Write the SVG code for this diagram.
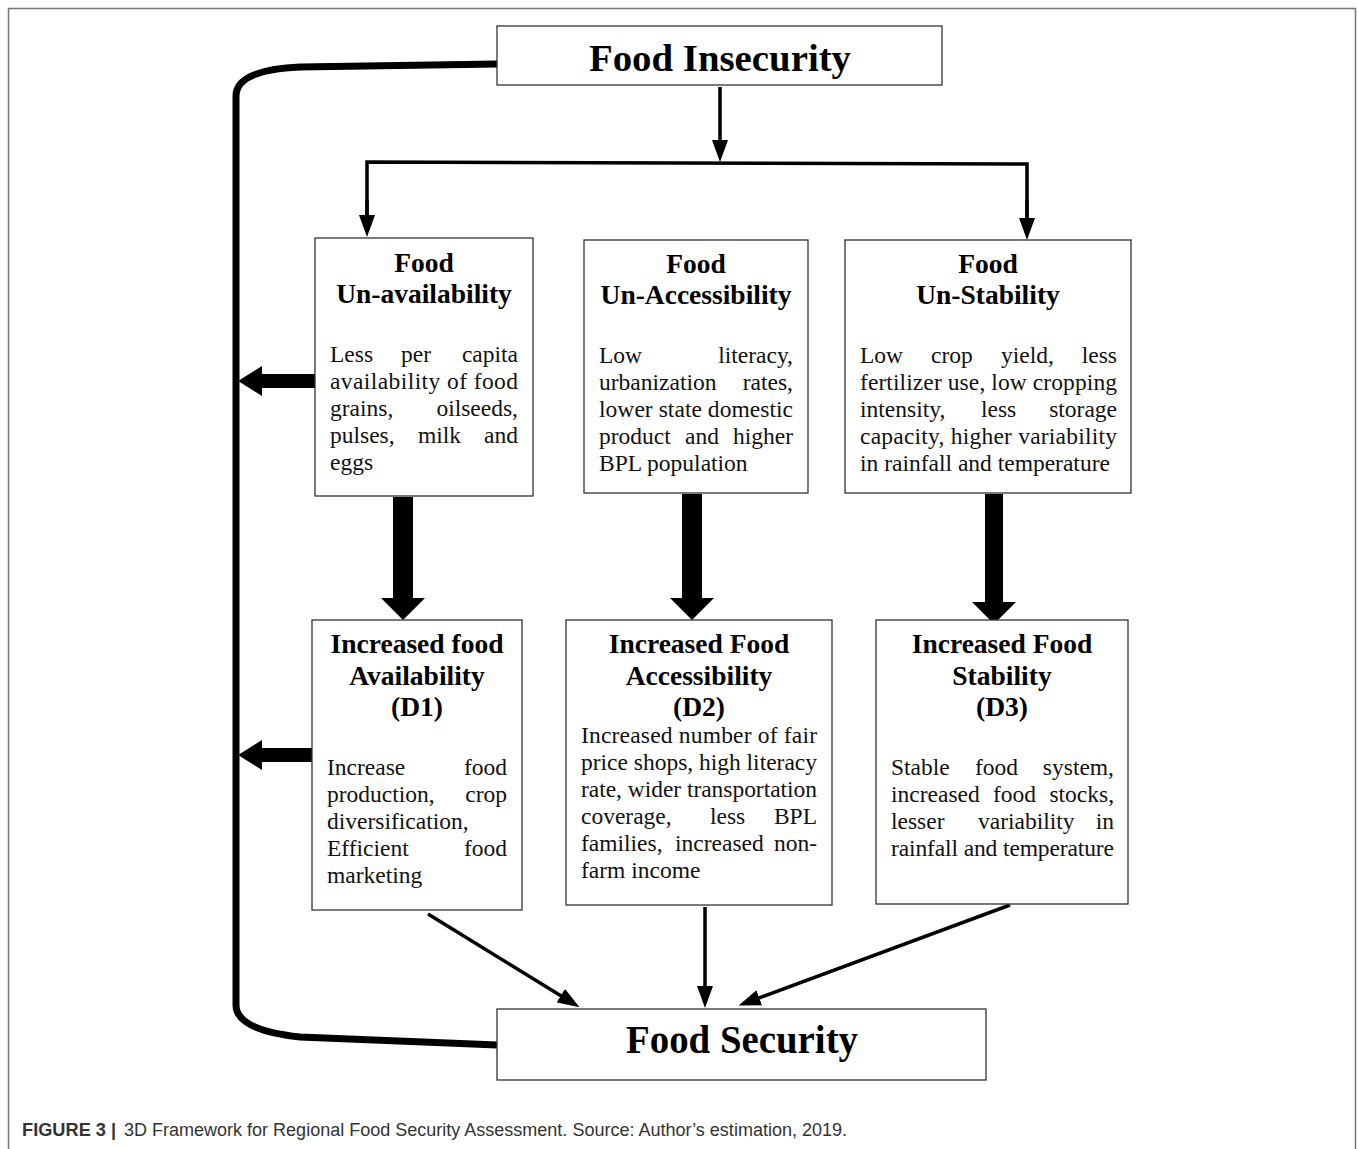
<svg xmlns="http://www.w3.org/2000/svg" width="1358" height="1149" viewBox="0 0 1358 1149">
<style>
.box{fill:#fff;stroke:#333;stroke-width:1.3}
.h{font-family:"Liberation Serif","Times New Roman",serif;font-weight:bold;font-size:27.5px;fill:#000;text-anchor:middle}
.t{font-family:"Liberation Serif","Times New Roman",serif;font-size:23.5px;fill:#111}
.big{font-family:"Liberation Serif","Times New Roman",serif;font-weight:bold;fill:#000;text-anchor:middle}
.ln{fill:none;stroke:#000;stroke-width:3.5}
.cap{font-family:"Liberation Sans",Arial,sans-serif;font-size:18px;fill:#333}
</style>
<defs>
<marker id="ah" viewBox="0 0 22 16" refX="12" refY="8" markerWidth="22" markerHeight="16" markerUnits="userSpaceOnUse" orient="auto">
<path d="M0,0 L22,8 L0,16 Z" fill="#000"/>
</marker>
</defs>
<rect width="1358" height="1149" fill="#fff"/>
<path d="M8.5,1149 V8.5 H1355.5 V1149" fill="none" stroke="#777" stroke-width="1.5"/>

<g id="connectors">
<path d="M497,64 L300,67 Q236,70 236,96 L236,1005 Q236,1030 300,1037 L497,1045" fill="none" stroke="#000" stroke-width="7"/>
<line class="ln" x1="720" y1="87" x2="720" y2="152" marker-end="url(#ah)"/>
<path class="ln" d="M367,228 V162 L1027,164 V230"/>
<line class="ln" x1="367" y1="200" x2="367" y2="227" marker-end="url(#ah)"/>
<line class="ln" x1="1027" y1="200" x2="1027" y2="230" marker-end="url(#ah)"/>
<path d="M315,374 H262 V366 L238,381 L262,396 V388 H315 Z" fill="#000"/>
<path d="M312,748 H262 V740 L238,755 L262,770 V762 H312 Z" fill="#000"/>
<path d="M393,497 H413 V598 H425 L403,620 L381,598 H393 Z" fill="#000"/>
<path d="M682,494 H702 V598 H714 L692,620 L670,598 H682 Z" fill="#000"/>
<path d="M985,494 H1003 V602 H1016 L994,624 L972,602 H985 Z" fill="#000"/>
<line class="ln" x1="428" y1="914" x2="571" y2="1002" marker-end="url(#ah)"/>
<line class="ln" x1="705" y1="907" x2="705" y2="998" marker-end="url(#ah)"/>
<line class="ln" x1="1010" y1="905" x2="748" y2="1002" marker-end="url(#ah)"/>
</g>

<g id="food-insecurity">
<rect class="box" x="497" y="26" width="445" height="59"/>
<text class="big" x="720" y="71" font-size="38" textLength="262" lengthAdjust="spacingAndGlyphs">Food Insecurity</text>
</g>

<g id="food-unavailability">
<rect class="box" x="315" y="238" width="218" height="258"/>
<text class="h" x="424" y="272">Food</text>
<text class="h" x="424" y="303">Un-availability</text>
<text class="t" y="362"><tspan x="330">Less</tspan><tspan x="401">per</tspan><tspan x="518" text-anchor="end">capita</tspan></text>
<text class="t" x="330" y="389" textLength="188" lengthAdjust="spacing">availability of food</text>
<text class="t" y="416"><tspan x="330">grains,</tspan><tspan x="518" text-anchor="end">oilseeds,</tspan></text>
<text class="t" y="443"><tspan x="330">pulses,</tspan><tspan x="418">milk</tspan><tspan x="518" text-anchor="end">and</tspan></text>
<text class="t" x="330" y="470">eggs</text>
</g>

<g id="food-unaccessibility">
<rect class="box" x="584" y="240" width="224" height="253"/>
<text class="h" x="696" y="273">Food</text>
<text class="h" x="696" y="304">Un-Accessibility</text>
<text class="t" y="363"><tspan x="599">Low</tspan><tspan x="793" text-anchor="end">literacy,</tspan></text>
<text class="t" y="390"><tspan x="599">urbanization</tspan><tspan x="793" text-anchor="end">rates,</tspan></text>
<text class="t" x="599" y="417" textLength="194" lengthAdjust="spacing">lower state domestic</text>
<text class="t" y="444"><tspan x="599">product</tspan><tspan x="685">and</tspan><tspan x="793" text-anchor="end">higher</tspan></text>
<text class="t" x="599" y="471">BPL population</text>
</g>

<g id="food-unstability">
<rect class="box" x="845" y="240" width="286" height="253"/>
<text class="h" x="988" y="273">Food</text>
<text class="h" x="988" y="304">Un-Stability</text>
<text class="t" y="363"><tspan x="860">Low</tspan><tspan x="931">crop</tspan><tspan x="1001">yield,</tspan><tspan x="1117" text-anchor="end">less</tspan></text>
<text class="t" x="860" y="390" textLength="257" lengthAdjust="spacing">fertilizer use, low cropping</text>
<text class="t" y="417"><tspan x="860">intensity,</tspan><tspan x="981">less</tspan><tspan x="1117" text-anchor="end">storage</tspan></text>
<text class="t" x="860" y="444" textLength="257" lengthAdjust="spacing">capacity, higher variability</text>
<text class="t" x="860" y="471">in rainfall and temperature</text>
</g>

<g id="d1">
<rect class="box" x="312" y="620" width="210" height="290"/>
<text class="h" x="417" y="653">Increased food</text>
<text class="h" x="417" y="685">Availability</text>
<text class="h" x="417" y="716">(D1)</text>
<text class="t" y="775"><tspan x="327">Increase</tspan><tspan x="507" text-anchor="end">food</tspan></text>
<text class="t" y="802"><tspan x="327">production,</tspan><tspan x="507" text-anchor="end">crop</tspan></text>
<text class="t" x="327" y="829">diversification,</text>
<text class="t" y="856"><tspan x="327">Efficient</tspan><tspan x="507" text-anchor="end">food</tspan></text>
<text class="t" x="327" y="883">marketing</text>
</g>

<g id="d2">
<rect class="box" x="566" y="620" width="266" height="285"/>
<text class="h" x="699" y="653">Increased Food</text>
<text class="h" x="699" y="685">Accessibility</text>
<text class="h" x="699" y="716">(D2)</text>
<text class="t" x="581" y="743" textLength="236" lengthAdjust="spacing">Increased number of fair</text>
<text class="t" x="581" y="770" textLength="236" lengthAdjust="spacing">price shops, high literacy</text>
<text class="t" x="581" y="797" textLength="236" lengthAdjust="spacing">rate, wider transportation</text>
<text class="t" y="824"><tspan x="581">coverage,</tspan><tspan x="710">less</tspan><tspan x="817" text-anchor="end">BPL</tspan></text>
<text class="t" y="851"><tspan x="581">families,</tspan><tspan x="675">increased</tspan><tspan x="817" text-anchor="end">non-</tspan></text>
<text class="t" x="581" y="878">farm income</text>
</g>

<g id="d3">
<rect class="box" x="876" y="620" width="252" height="284"/>
<text class="h" x="1002" y="653">Increased Food</text>
<text class="h" x="1002" y="685">Stability</text>
<text class="h" x="1002" y="716">(D3)</text>
<text class="t" y="775"><tspan x="891">Stable</tspan><tspan x="975">food</tspan><tspan x="1114" text-anchor="end">system,</tspan></text>
<text class="t" y="802"><tspan x="891">increased</tspan><tspan x="993">food</tspan><tspan x="1114" text-anchor="end">stocks,</tspan></text>
<text class="t" y="829"><tspan x="891">lesser</tspan><tspan x="978">variability</tspan><tspan x="1114" text-anchor="end">in</tspan></text>
<text class="t" x="891" y="856" textLength="223" lengthAdjust="spacing">rainfall and temperature</text>
</g>

<g id="food-security">
<rect class="box" x="497" y="1009" width="489" height="71"/>
<text class="big" x="742" y="1053" font-size="40" textLength="232" lengthAdjust="spacingAndGlyphs">Food Security</text>
</g>

<g id="caption">
<text class="cap" x="22" y="1136" font-weight="bold" fill="#222" textLength="84" lengthAdjust="spacingAndGlyphs">FIGURE 3</text>
<text class="cap" x="111" y="1136" font-weight="bold" fill="#222">|</text>
<text class="cap" x="124" y="1136" textLength="723" lengthAdjust="spacingAndGlyphs">3D Framework for Regional Food Security Assessment. Source: Author’s estimation, 2019.</text>
</g>
</svg>
